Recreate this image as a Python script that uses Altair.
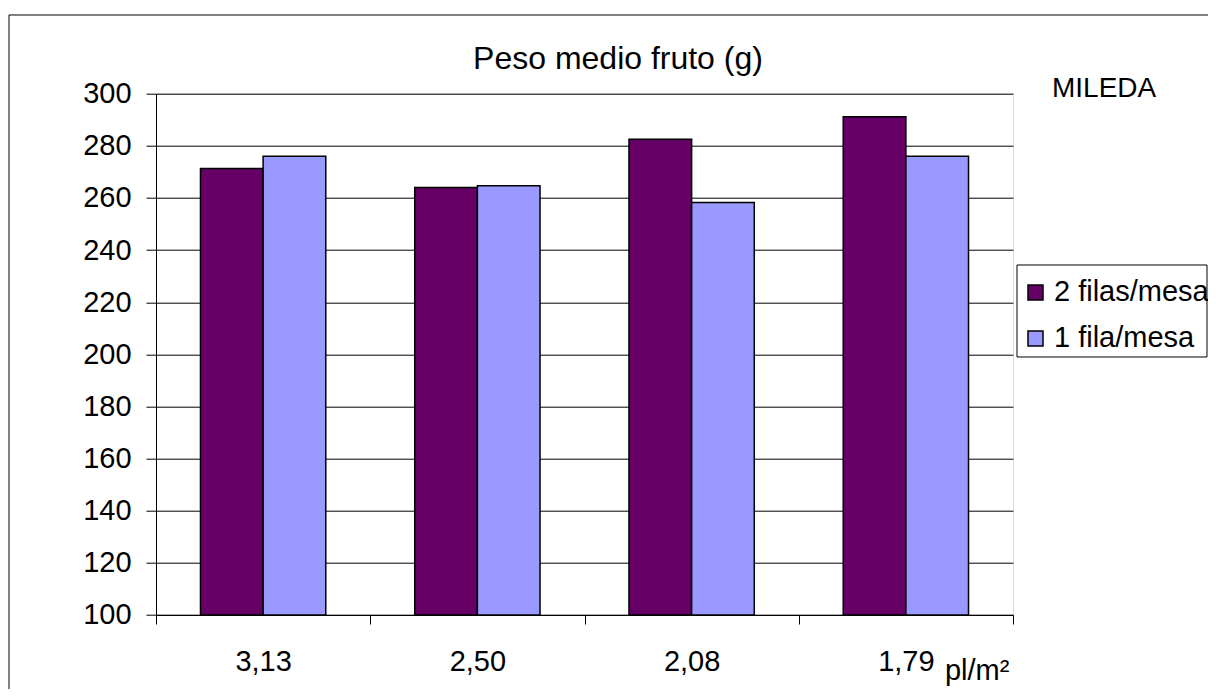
import altair as alt
import pandas as pd

# ---- data ----
categorias = ["3,13", "2,50", "2,08", "1,79"]
series = ["2 filas/mesa", "1 fila/mesa"]
dos_filas = [271.3, 264.0, 282.5, 291.2]
una_fila = [276.0, 264.7, 258.3, 276.0]
colores = ["#660066", "#9999FF"]
y_ticks = list(range(100, 301, 20))
y_base = 100
titulo_txt = "Peso medio fruto (g)"
variedad_txt = "MILEDA"
unidad_txt = "pl/m²"

rows = []
for c, a, b in zip(categorias, dos_filas, una_fila):
    rows.append({"densidad": c, "serie": series[0], "peso": a})
    rows.append({"densidad": c, "serie": series[1], "peso": b})
df = pd.DataFrame(rows)

W, H = 857, 521.3
FONT = "Liberation Sans"

bars = alt.Chart(df).mark_bar(stroke="black", strokeWidth=1.5).encode(
    x=alt.X(
        "densidad:N", sort=categorias, title=None,
        scale=alt.Scale(paddingInner=0, paddingOuter=0),
        axis=alt.Axis(labelAngle=0, tickBand="extent", tickSize=9, labelPadding=24,
                      labelFontSize=29, labelFont=FONT, labelColor="black",
                      domainColor="black", tickColor="black", grid=False),
    ),
    xOffset=alt.XOffset("serie:N", sort=series,
                        scale=alt.Scale(paddingOuter=0.71, paddingInner=0)),
    y=alt.Y(
        "peso:Q", title=None,
        scale=alt.Scale(domain=[100, 300], zero=False, nice=False),
        axis=alt.Axis(values=y_ticks, tickSize=10, labelPadding=15,
                      labelFontSize=29, labelFont=FONT, labelColor="black",
                      domainColor="black", tickColor="black",
                      grid=True, gridColor="black", gridWidth=1),
    ),
    y2=alt.datum(y_base),
    color=alt.Color(
        "serie:N", sort=series,
        scale=alt.Scale(domain=series, range=colores),
        legend=alt.Legend(title=None, orient="none", legendX=861, legendY=180.3,
                          strokeColor="transparent", padding=4,
                          symbolType="square", symbolSize=225,
                          symbolStrokeColor="black", symbolStrokeWidth=1.5,
                          labelFontSize=29, labelFont=FONT, labelColor="black",
                          rowPadding=16, labelOffset=4, labelLimit=400),
    ),
)

frame = alt.Chart(alt.Data(values=[{"k": 1}])).mark_rect(
    fillOpacity=0, stroke="black", strokeWidth=1
).encode(x=alt.value(-147), x2=alt.value(1300), y=alt.value(-78.7), y2=alt.value(800))

legend_box = alt.Chart(alt.Data(values=[{"k": 1}])).mark_rect(
    fill="white", stroke="black", strokeWidth=1
).encode(x=alt.value(861), x2=alt.value(1051), y=alt.value(171.3), y2=alt.value(263.3))

titulo = alt.Chart(alt.Data(values=[{"t": titulo_txt}])).mark_text(
    fontSize=32, font=FONT, align="center", baseline="alphabetic", color="black"
).encode(x=alt.value(462), y=alt.value(-24.4), text="t:N")

variedad = alt.Chart(alt.Data(values=[{"t": variedad_txt}])).mark_text(
    fontSize=28, font=FONT, align="left", baseline="alphabetic", color="black"
).encode(x=alt.value(896), y=alt.value(3.3), text="t:N")

unidad = alt.Chart(alt.Data(values=[{"t": unidad_txt}])).mark_text(
    fontSize=29, font=FONT, align="left", baseline="alphabetic", color="black"
).encode(x=alt.value(789), y=alt.value(586.3), text="t:N")

chart = alt.layer(frame, legend_box, bars, titulo, variedad, unidad).properties(
    width=W, height=H,
    padding={"left": 148, "top": 85.7, "right": 195, "bottom": 74.3},
    autosize=alt.AutoSizeParams(type="none"),
).configure_view(stroke="#808080", strokeWidth=1).configure(background="white")

chart.save("out.html", embed_options={"renderer": "svg", "actions": False})
